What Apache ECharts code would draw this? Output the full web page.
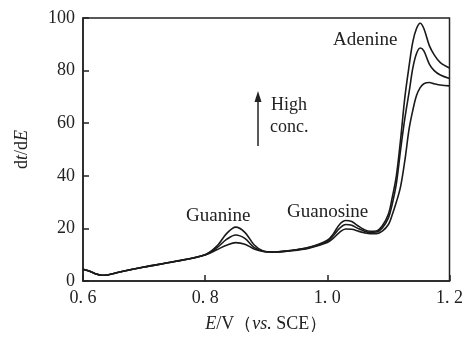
<!DOCTYPE html>
<html>
<head>
<meta charset="utf-8">
<script src="https://cdn.jsdelivr.net/npm/echarts@6/dist/echarts.min.js"></script>
<style>
  html, body { margin: 0; padding: 0; background: #fff; }
  #chart { width: 466px; height: 338px; }
</style>
</head>
<body>
<div id="chart"></div>
<script>
// potential grid (V vs. SCE), shared by the three curves
var potentials = [0.60, 0.61, 0.62, 0.63, 0.64, 0.66, 0.70, 0.75, 0.80, 0.82, 0.835, 0.85, 0.865, 0.88, 0.895, 0.91,
  0.94, 0.97, 1.00, 1.01, 1.02, 1.03, 1.04, 1.05, 1.06, 1.07, 1.08, 1.09, 1.10, 1.106, 1.113, 1.12, 1.127, 1.134,
  1.14, 1.146, 1.152, 1.158, 1.167, 1.175, 1.185, 1.20];

var highConc = [4.5, 3.8, 2.8, 2.2, 2.3, 3.4, 5.3, 7.4, 10.0, 13.5, 18, 20.5, 18.5, 13.8, 11.4, 11.0,
  11.6, 12.8, 15.5, 18, 21.5, 23, 22.6, 21, 19.6, 18.9, 19, 21, 25.5, 31.5, 40, 54, 70, 82,
  91, 96, 98, 96, 89.5, 86, 83, 81];
var midConc = [4.5, 3.8, 2.8, 2.2, 2.3, 3.4, 5.3, 7.4, 10.0, 12.8, 15.8, 17.5, 16.2, 12.8, 11.3, 11.0,
  11.6, 12.7, 15.0, 17.3, 20, 21.5, 21.2, 20, 19, 18.5, 18.6, 20.2, 24, 29, 37, 50, 62, 72,
  81, 86.5, 88.6, 87.5, 82.5, 80, 78.3, 77];
var lowConc = [4.5, 3.8, 2.8, 2.2, 2.3, 3.4, 5.3, 7.4, 9.9, 12, 13.6, 14.6, 14, 12.2, 11.2, 11.0,
  11.5, 12.5, 14.6, 16.3, 18.5, 19.8, 19.7, 19, 18.4, 18, 18, 19, 21.5, 25, 30, 36, 46, 58,
  65, 70.5, 73.5, 75, 75.5, 75, 74.5, 74.2];

var xTicks = [0.6, 0.8, 1.0, 1.2];
var yTicks = [0, 20, 40, 60, 80, 100];

var serif = '"Liberation Serif", "DejaVu Serif", serif';

function pairs(ys) {
  return potentials.map(function (e, i) { return [e, ys[i]]; });
}

function curve(name, ys) {
  return {
    name: name,
    type: 'line',
    data: pairs(ys),
    smooth: 0.35,
    symbol: 'none',
    lineStyle: { color: '#1a1a1a', width: 1.6 }
  };
}

var myChart = echarts.init(document.getElementById('chart'));

var option = {
  animation: false,
  backgroundColor: '#fff',
  grid: {
    left: 83, right: 16, top: 18, bottom: 54,
    show: true, borderColor: '#222', borderWidth: 1.5
  },
  xAxis: {
    type: 'value',
    min: xTicks[0], max: xTicks[xTicks.length - 1], interval: 0.2,
    name: '{i|E}{r|/V（}{i|vs.}{r| SCE）}',
    nameLocation: 'middle', nameGap: 34,
    nameTextStyle: {
      rich: {
        i: { fontFamily: serif, fontStyle: 'italic', fontSize: 18, color: '#222' },
        r: { fontFamily: serif, fontSize: 18, color: '#222' }
      }
    },
    axisLine: { lineStyle: { color: '#222', width: 1.5 } },
    axisTick: { inside: true, length: 6, lineStyle: { color: '#222', width: 1.5 } },
    axisLabel: {
      margin: 8, fontFamily: serif, fontSize: 18, color: '#222',
      formatter: function (v) { return v.toFixed(1).replace('.', '. '); }
    },
    splitLine: { show: false }
  },
  yAxis: {
    type: 'value',
    min: yTicks[0], max: yTicks[yTicks.length - 1], interval: 20,
    name: '{r|d}{i|t}{r|/d}{i|E}',
    nameLocation: 'middle', nameGap: 52, nameRotate: 90,
    nameTextStyle: {
      rich: {
        i: { fontFamily: serif, fontStyle: 'italic', fontSize: 18, color: '#222' },
        r: { fontFamily: serif, fontSize: 18, color: '#222' }
      }
    },
    axisLine: { show: true, lineStyle: { color: '#222', width: 1.5 } },
    axisTick: { show: true, inside: true, length: 6, lineStyle: { color: '#222', width: 1.5 } },
    axisLabel: { margin: 8, fontFamily: serif, fontSize: 18, color: '#222' },
    splitLine: { show: false }
  },
  series: [
    curve('high', highConc),
    curve('mid', midConc),
    curve('low', lowConc)
  ],
  graphic: [
    { type: 'text', left: 186, top: 207, style: { text: 'Guanine', font: '19px ' + serif, fill: '#222' } },
    { type: 'text', left: 287, top: 203, style: { text: 'Guanosine', font: '19px ' + serif, fill: '#222' } },
    { type: 'text', left: 333, top: 31, style: { text: 'Adenine', font: '19px ' + serif, fill: '#222' } },
    { type: 'text', left: 271, top: 96, style: { text: 'High', font: '18px ' + serif, fill: '#222' } },
    { type: 'text', left: 270, top: 118, style: { text: 'conc.', font: '18px ' + serif, fill: '#222' } },
    { type: 'line', shape: { x1: 258, y1: 146, x2: 258, y2: 100 }, style: { stroke: '#222', lineWidth: 1.5 } },
    { type: 'polygon', shape: { points: [[258, 91], [254.5, 102], [261.5, 102]] }, style: { fill: '#222' } }
  ]
};

myChart.setOption(option);
</script>
</body>
</html>
